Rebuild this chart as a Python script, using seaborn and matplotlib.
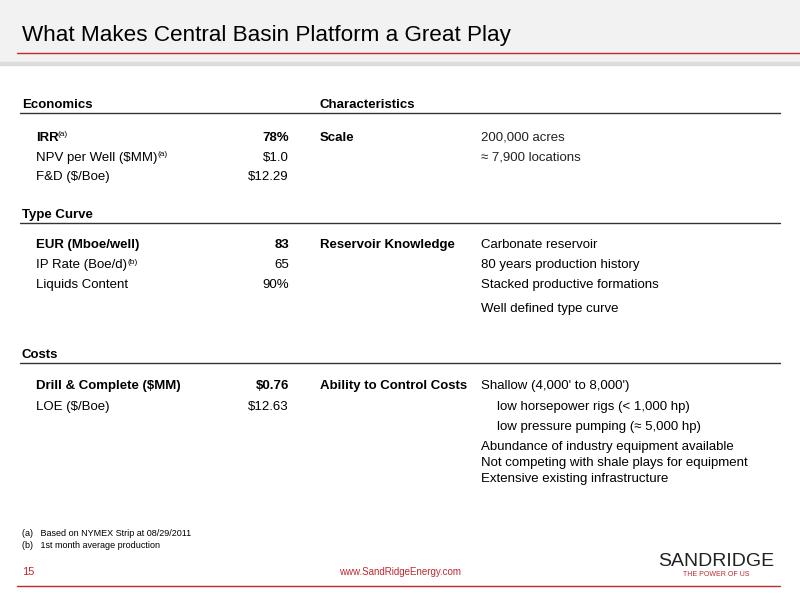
import matplotlib
matplotlib.use("Agg")
import matplotlib.pyplot as plt
import seaborn as sns
from matplotlib.patches import Rectangle

sns.set_theme(style="white")
plt.rcParams['font.family'] = ['Liberation Sans', 'DejaVu Sans']

title = "What Makes Central Basin Platform a Great Play"
sections = ["Economics", "Type Curve", "Costs"]
econ_labels = ["IRR", "NPV per Well ($MM)", "F&D ($/Boe)"]
econ_values = ["78%", "$1.0", "$12.29"]
type_labels = ["EUR (Mboe/well)", "IP Rate (Boe/d)", "Liquids Content"]
type_values = ["83", "65", "90%"]
cost_labels = ["Drill & Complete ($MM)", "LOE ($/Boe)"]
cost_values = ["$0.76", "$12.63"]
char_heads = ["Scale", "Reservoir Knowledge", "Ability to Control Costs"]
scale_items = ["200,000 acres", "≈ 7,900 locations"]
res_items = ["Carbonate reservoir", "80 years production history",
             "Stacked productive formations", "Well defined type curve"]
cost_items = ["Shallow (4,000' to 8,000')", "low horsepower rigs (< 1,000 hp)",
              "low pressure pumping (≈ 5,000 hp)",
              "Abundance of industry equipment available",
              "Not competing with shale plays for equipment",
              "Extensive existing infrastructure"]
footnotes = ["(a)   Based on NYMEX Strip at 08/29/2011", "(b)   1st month average production"]

fig = plt.figure(figsize=(8, 6), dpi=100)
W, H = 800, 600
def fx(x): return x / W
def fy(y): return 1 - y / H
def T(x, y, s, **kw):
    kw.setdefault("fontsize", 9.5)
    kw.setdefault("color", "black")
    kw.setdefault("va", "center")
    fig.text(fx(x), fy(y), s, **kw)
def hline(y, x0, x1, color, lw):
    fig.add_artist(plt.Line2D([fx(x0), fx(x1)], [fy(y), fy(y)], color=color, lw=lw))

# header band
fig.add_artist(Rectangle((0, fy(62)), 1, 62 / H, color="#f2f2f2", zorder=0))
fig.add_artist(Rectangle((0, fy(65)), 1, 3 / H, color="#dcdcdc", zorder=0))
hline(53, 17, 800, "#c0282e", 1.0)
T(22, 36, title, fontsize=16.2)

# section headers
sec_y = [105, 215, 355]
for s, y in zip(sections, sec_y):
    T(22, y, s, fontweight="bold")
    hline(y + 8, 20, 780, "#333333", 1.0)
T(320, 105, "Characteristics", fontweight="bold")

def rows(labels, values, ys, bold_first):
    for i, (l, v, y) in enumerate(zip(labels, values, ys)):
        fw = "bold" if (i == 0 and bold_first) else "normal"
        T(36, y, l, fontweight=fw)
        T(289, y, v, fontweight=fw, ha="right")

rows(econ_labels, econ_values, [138, 158, 177], True)
rows(type_labels, type_values, [245, 265, 285], True)
rows(cost_labels, cost_values, [386, 407], True)
# superscripts
T(58, 135, "(a)", fontsize=6)
T(157, 155, "(a)", fontsize=6)
T(127, 262, "(b)", fontsize=6)

for h, y in zip(char_heads, [138, 245, 386]):
    T(320, y, h, fontweight="bold")
for s, y in zip(scale_items, [138, 158]):
    T(481, y, s, color="#222222")
for s, y in zip(res_items, [245, 265, 285, 309]):
    T(481, y, s)
cost_x = [481, 497, 497, 481, 481, 481]
for s, x, y in zip(cost_items, cost_x, [386, 407, 427, 447, 463, 479]):
    T(x, y, s)

for s, y in zip(footnotes, [534, 545]):
    T(22, y, s, fontsize=6.5)

hline(586, 17, 780, "#c0282e", 1.0)
T(22, 572, "15", fontsize=8, color="#c0282e")
T(400, 572, "www.SandRidgeEnergy.com", fontsize=7, color="#c0282e", ha="center")
T(716, 561, "SANDRIDGE", fontsize=14, color="#222222", ha="center")
T(716, 575, "THE POWER OF US", fontsize=5, color="#c0282e", ha="center")

fig.savefig("out.png", dpi=100, facecolor="white")
